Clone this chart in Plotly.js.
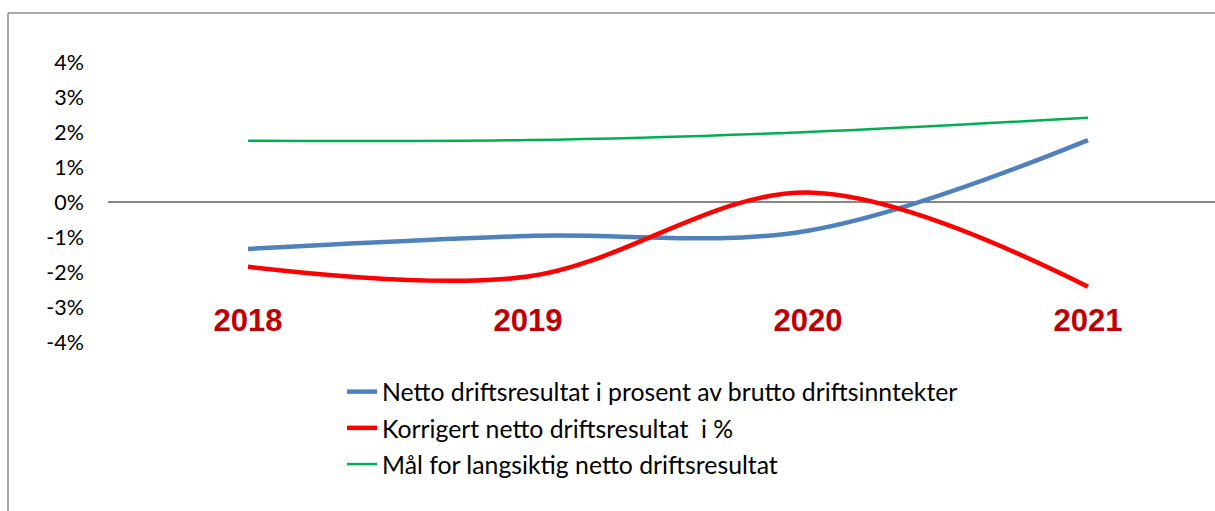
<!DOCTYPE html>
<html>
<head>
<meta charset="utf-8">
<script src="https://cdn.plot.ly/plotly-3.0.1.min.js"></script>
<style>html,body{margin:0;padding:0;background:#fff;}#chart{width:1215px;height:511px;}</style>
</head>
<body>
<div id="chart"></div>
<script>
const years = ["2018", "2019", "2020", "2021"];
const nettoPct = [-1.34, -0.97, -0.82, 1.77];
const korrigertPct = [-1.85, -2.13, 0.27, -2.42];
const maalPct = [1.75, 1.77, 2.0, 2.41];
const seriesNames = [
  "Netto driftsresultat i prosent av brutto driftsinntekter",
  "Korrigert netto driftsresultat  i %",
  "Mål for langsiktig netto driftsresultat"
];
const yTicks = [4, 3, 2, 1, 0, -1, -2, -3, -4];

const W = 1215, H = 511;
const mL = 108, mR = 0, mT = 62, mB = 169;
const pw = W - mL - mR, ph = H - mT - mB;
const px = v => (v - mL) / pw;
const py = v => (H - mB - v) / ph;

const traces = [
  {x: years, y: nettoPct, name: seriesNames[0], legendgroup: "a",
   mode: "lines", line: {color: "#4F81BD", width: 4.5, shape: "spline", smoothing: 1}},
  {x: years, y: korrigertPct, name: seriesNames[1], legendgroup: "b",
   mode: "lines", line: {color: "#FF0000", width: 4.5, shape: "spline", smoothing: 1}},
  {x: years, y: maalPct, name: seriesNames[2], legendgroup: "c",
   mode: "lines", line: {color: "#00B050", width: 2.5, shape: "spline", smoothing: 1}}
];

const layout = {
  width: W, height: H,
  margin: {l: mL, r: mR, t: mT, b: mB, pad: 0},
  paper_bgcolor: "#ffffff", plot_bgcolor: "rgba(0,0,0,0)",
  showlegend: true,
  legend: {
    x: px(342), y: py(369), xanchor: "left", yanchor: "top",
    traceorder: "grouped", tracegroupgap: 1,
    font: {family: "Lato, 'Open Sans', sans-serif", size: 24.8, color: "#000000"},
    bgcolor: "rgba(0,0,0,0)"
  },
  xaxis: {
    type: "category",
    range: [-0.5, -0.5 + pw / 280],
    anchor: "free", position: py(299),
    showline: false, showgrid: false, zeroline: false, ticks: "",
    tickfont: {family: "'Liberation Sans', Arial, sans-serif", size: 31, color: "#C00000", weight: "bold"},
    fixedrange: true
  },
  yaxis: {
    range: [-4, 4],
    tickvals: yTicks,
    ticktext: yTicks.map(v => v + "%"),
    showgrid: false, showline: false, ticks: "",
    zeroline: true, zerolinecolor: "#868686", zerolinewidth: 2,
    ticklabelstandoff: 23,
    tickfont: {family: "Lato, 'Open Sans', sans-serif", size: 21.5, color: "#000000"},
    fixedrange: true
  },
  shapes: [
    {type: "line", xref: "paper", yref: "paper", x0: px(8), x1: px(1215), y0: py(13), y1: py(13),
     line: {color: "#8C8C8C", width: 1.5}},
    {type: "line", xref: "paper", yref: "paper", x0: px(8), x1: px(8), y0: py(13), y1: py(511),
     line: {color: "#8C8C8C", width: 1.5}}
  ]
};

Plotly.newPlot("chart", traces, layout, {displayModeBar: false, staticPlot: true});
</script>
</body>
</html>
